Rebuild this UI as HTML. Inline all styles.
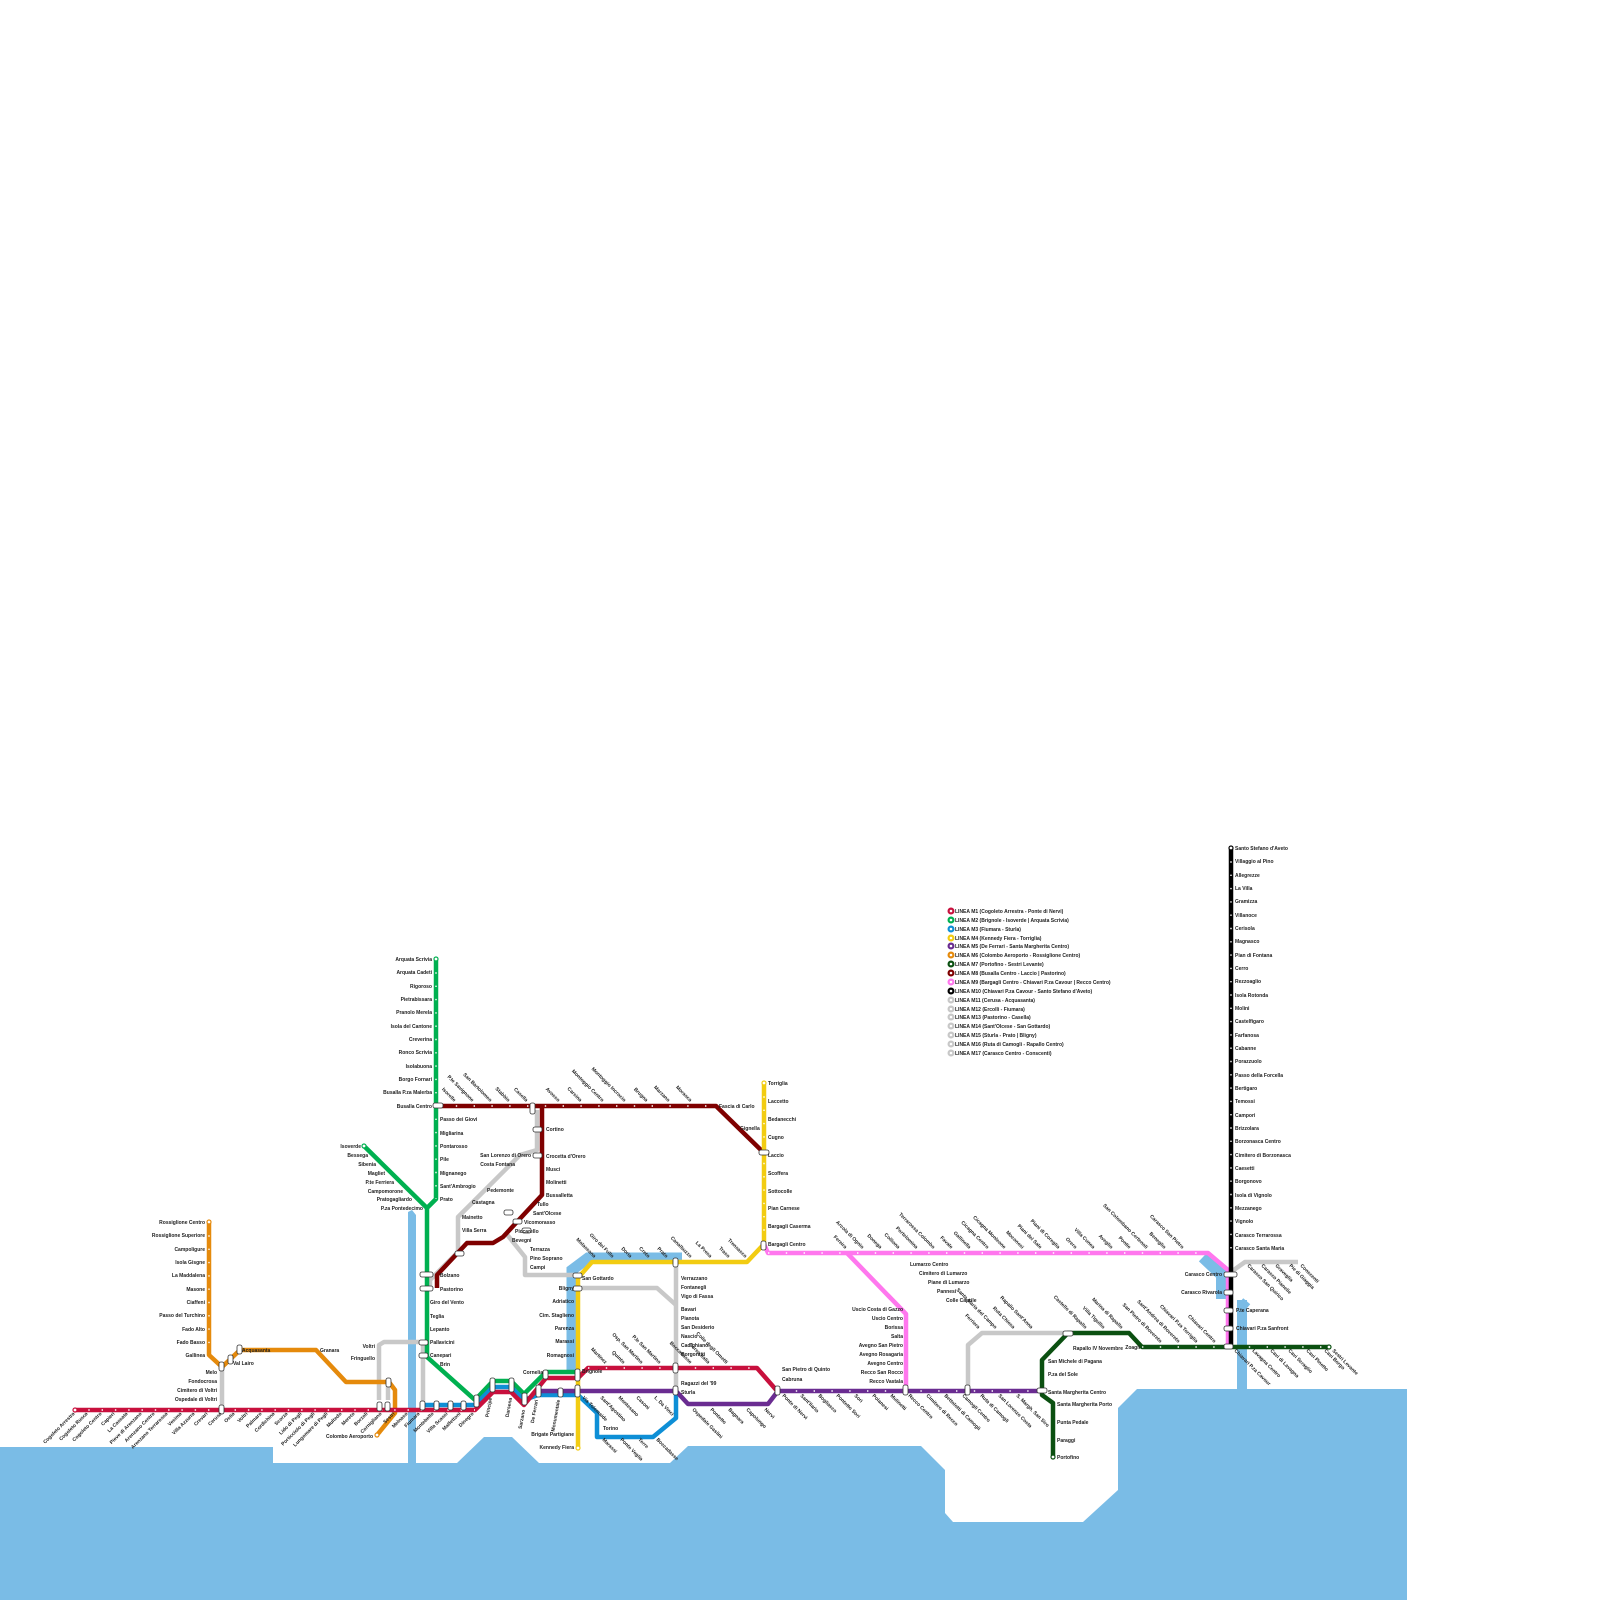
<!DOCTYPE html>
<html><head><meta charset="utf-8"><style>
html,body{margin:0;padding:0;background:#fff;}
svg{display:block;}
text{font-family:"Liberation Sans",sans-serif;font-size:5px;font-weight:bold;fill:#222;}
.r{text-anchor:end;}
</style></head><body>
<svg width="1600" height="1600" viewBox="0 0 1600 1600" xmlns="http://www.w3.org/2000/svg">
<!-- water -->
<path d="M0,1447 L273,1447 L273,1463 L408,1463 L408,1212 L412,1210 L416,1215 L416,1463 L457,1463 L484,1437 L512,1437 L539,1463 L670,1463 L688,1446 L921,1446 L945,1470 L945,1513 L953,1522 L1083,1522 L1118,1490 L1118,1408 L1137,1389 L1237,1389 L1237,1300 L1247,1300 L1247,1389 L1407,1389 L1407,1600 L0,1600 Z" fill="#7abce6"/>
<polyline points="572,1372 572,1270 588,1258 682,1258" fill="none" stroke="#7abce6" stroke-width="11"/>
<polyline points="1203,1257 1222,1275 1222,1299" fill="none" stroke="#7abce6" stroke-width="12"/>
<polyline points="1240,1302 1247,1308" fill="none" stroke="#7abce6" stroke-width="10"/>

<g fill="none" stroke-linejoin="round" stroke-width="4.5">
<!-- grey lines -->
<g stroke="#c8c8c8">
<polyline points="222,1408 222,1367 240,1350"/>
<polyline points="379,1400 379,1345 384,1342 423,1342 423,1404"/>
<polyline points="388,1400 388,1382"/>
<polyline points="430,1288 430,1280 458,1252 458,1217 520,1155 537,1150 537,1110"/>
<polyline points="505,1232 525,1257 525,1275 578,1275"/>
<polyline points="676,1262 676,1390"/>
<polyline points="580,1288 657,1288 676,1305"/>
<polyline points="968,1391 968,1345 982,1333 1068,1333"/>
<polyline points="1231,1272 1245,1262 1298,1262"/>
</g>
<!-- orange -->
<polyline stroke="#e58a0c" points="209,1222 209,1355 222,1367 240,1350 316,1350 346,1382 389,1382 395,1390 395,1413 377,1435"/>
<!-- maroon -->
<polyline stroke="#7f0000" points="438,1106 716,1106 763,1152"/>
<polyline stroke="#7f0000" points="542,1106 542,1195 503,1237 493,1243 467,1243 437,1275 437,1288"/>
<!-- green -->
<polyline stroke="#00b050" points="436,959 436,1199 427,1208 427,1357 475,1400 493,1381 511,1381 524,1394 546,1372 578,1372"/>
<polyline stroke="#00b050" points="364,1146 427,1208"/>
<!-- blue -->
<polyline stroke="#0e8fd6" points="420,1405 475,1405 493,1387 511,1387 524,1400 538,1395 578,1395 597,1413 597,1437 653,1437 676,1418 676,1390"/>
<!-- red -->
<polyline stroke="#c8103d" points="75,1410 475,1410 493,1392 511,1392 524,1405 546,1378 578,1378 588,1368 757,1368 778,1392"/>
<!-- purple -->
<polyline stroke="#6a2c91" points="538,1391 676,1391 688,1404 768,1404 778,1391 1042,1391"/>
<!-- yellow -->
<polyline stroke="#f2cc12" points="578,1448 578,1278 592,1262 747,1262 764,1244 764,1083"/>
<!-- pink -->
<polyline stroke="#ff77ee" points="764,1244 768,1253 1208,1253 1228,1270 1228,1347"/>
<polyline stroke="#ff77ee" points="847,1253 906,1314 906,1388"/>
<!-- black -->
<polyline stroke="#000" points="1231,848 1231,1347"/>
<!-- dark green -->
<polyline stroke="#0b5011" points="1053,1457 1053,1403 1042,1395 1042,1360 1068,1333 1129,1333 1142,1347 1329,1347"/>
</g>

<!-- station dots along lines -->
<g fill="none" stroke="#fff" stroke-width="1.4" stroke-dasharray="1.4 11.9">
<polyline points="75,1410 475,1410"/>
<polyline points="436,959 436,1199"/>
<polyline points="1231,848 1231,1249"/>
<polyline points="209,1222 209,1355"/>
<polyline points="764,1083 764,1244"/>
<polyline points="768,1253 1208,1253" stroke-dasharray="1.4 16.4"/>
<polyline points="438,1106 716,1106" stroke-dasharray="1.4 16.4"/>
<polyline points="778,1391 1042,1391" stroke-dasharray="1.4 16.4"/>
<polyline points="588,1368 757,1368" stroke-dasharray="1.4 16.4"/>
<polyline points="1142,1347 1329,1347" stroke-dasharray="1.4 16.4"/>
</g>

<!-- interchange markers -->
<g fill="#fff" stroke="#333" stroke-width="0.8">
<rect x="433" y="1103" width="10" height="5" rx="2"/>
<rect x="530" y="1103" width="5" height="11" rx="2"/>
<rect x="533" y="1127" width="9" height="5" rx="2"/>
<rect x="533" y="1153" width="9" height="5" rx="2"/>
<rect x="759" y="1150" width="10" height="5" rx="2"/>
<rect x="761" y="1241" width="5" height="9" rx="2"/>
<rect x="420" y="1272" width="13" height="5" rx="2"/>
<rect x="420" y="1286" width="13" height="5" rx="2"/>
<rect x="419" y="1340" width="9" height="5" rx="2"/>
<rect x="419" y="1353" width="9" height="5" rx="2"/>
<rect x="573" y="1273" width="9" height="5" rx="2"/>
<rect x="573" y="1286" width="9" height="5" rx="2"/>
<rect x="575" y="1369" width="5" height="12" rx="2"/>
<rect x="575" y="1385" width="5" height="12" rx="2"/>
<rect x="673" y="1258" width="5" height="9" rx="2"/>
<rect x="673" y="1363" width="5" height="10" rx="2"/>
<rect x="673" y="1386" width="5" height="9" rx="2"/>
<rect x="775" y="1386" width="5" height="9" rx="2"/>
<rect x="903" y="1385" width="5" height="10" rx="2"/>
<rect x="965" y="1385" width="5" height="10" rx="2"/>
<rect x="1037" y="1388" width="10" height="5" rx="2"/>
<rect x="1063" y="1331" width="10" height="5" rx="2"/>
<rect x="1224" y="1272" width="13" height="5" rx="2"/>
<rect x="1224" y="1290" width="9" height="5" rx="2"/>
<rect x="1224" y="1308" width="9" height="5" rx="2"/>
<rect x="1224" y="1326" width="9" height="5" rx="2"/>
<rect x="1224" y="1344" width="9" height="5" rx="2"/>
<rect x="219" y="1405" width="5" height="9" rx="2"/>
<rect x="219" y="1362" width="5" height="9" rx="2"/>
<rect x="228" y="1355" width="5" height="9" rx="2"/>
<rect x="237" y="1345" width="5" height="9" rx="2"/>
<rect x="377" y="1402" width="5" height="9" rx="2"/>
<rect x="385" y="1402" width="5" height="9" rx="2"/>
<rect x="386" y="1378" width="5" height="9" rx="2"/>
<rect x="420" y="1401" width="5" height="9" rx="2"/>
<rect x="434" y="1401" width="5" height="9" rx="2"/>
<rect x="448" y="1401" width="5" height="9" rx="2"/>
<rect x="461" y="1401" width="5" height="9" rx="2"/>
<rect x="474" y="1395" width="5" height="12" rx="2"/>
<rect x="490" y="1378" width="5" height="14" rx="2"/>
<rect x="509" y="1378" width="5" height="14" rx="2"/>
<rect x="522" y="1393" width="5" height="12" rx="2"/>
<rect x="536" y="1385" width="5" height="12" rx="2"/>
<rect x="543" y="1370" width="5" height="9" rx="2"/>
<rect x="558" y="1388" width="5" height="9" rx="2"/>
<rect x="455" y="1251" width="9" height="5" rx="2"/>
<rect x="522" y="1228" width="9" height="5" rx="2"/>
<rect x="513" y="1219" width="9" height="5" rx="2"/>
<rect x="504" y="1210" width="9" height="5" rx="2"/>
</g>
<g fill="#fff" stroke-width="1.2">
<circle cx="75" cy="1410" r="2" stroke="#c8103d"/>
<circle cx="436" cy="959" r="2" stroke="#00b050"/>
<circle cx="364" cy="1146" r="2" stroke="#00b050"/>
<circle cx="209" cy="1222" r="2" stroke="#e58a0c"/>
<circle cx="377" cy="1435" r="2" stroke="#e58a0c"/>
<circle cx="764" cy="1083" r="2" stroke="#f2cc12"/>
<circle cx="578" cy="1448" r="2" stroke="#f2cc12"/>
<circle cx="1231" cy="848" r="2" stroke="#000"/>
<circle cx="1053" cy="1457" r="2" stroke="#0b5011"/>
<circle cx="1329" cy="1347" r="2" stroke="#0b5011"/>
</g>

<!-- legend -->
<g>
<circle cx="951" cy="911" r="3.5" fill="#c8103d"/><circle cx="951" cy="920" r="3.5" fill="#00b050"/><circle cx="951" cy="929" r="3.5" fill="#0e8fd6"/><circle cx="951" cy="938" r="3.5" fill="#f2cc12"/><circle cx="951" cy="946" r="3.5" fill="#6a2c91"/><circle cx="951" cy="955" r="3.5" fill="#e58a0c"/><circle cx="951" cy="964" r="3.5" fill="#0b5011"/><circle cx="951" cy="973" r="3.5" fill="#7f0000"/><circle cx="951" cy="982" r="3.5" fill="#ff77ee"/><circle cx="951" cy="991" r="3.5" fill="#000"/>
<circle cx="951" cy="1000" r="3.5" fill="#c8c8c8"/><circle cx="951" cy="1009" r="3.5" fill="#c8c8c8"/><circle cx="951" cy="1017" r="3.5" fill="#c8c8c8"/><circle cx="951" cy="1026" r="3.5" fill="#c8c8c8"/><circle cx="951" cy="1035" r="3.5" fill="#c8c8c8"/><circle cx="951" cy="1044" r="3.5" fill="#c8c8c8"/><circle cx="951" cy="1053" r="3.5" fill="#c8c8c8"/>
<g fill="#fff"><circle cx="951" cy="911" r="1.3"/><circle cx="951" cy="920" r="1.3"/><circle cx="951" cy="929" r="1.3"/><circle cx="951" cy="938" r="1.3"/><circle cx="951" cy="946" r="1.3"/><circle cx="951" cy="955" r="1.3"/><circle cx="951" cy="964" r="1.3"/><circle cx="951" cy="973" r="1.3"/><circle cx="951" cy="982" r="1.3"/><circle cx="951" cy="991" r="1.3"/><circle cx="951" cy="1000" r="1.3"/><circle cx="951" cy="1009" r="1.3"/><circle cx="951" cy="1017" r="1.3"/><circle cx="951" cy="1026" r="1.3"/><circle cx="951" cy="1035" r="1.3"/><circle cx="951" cy="1044" r="1.3"/><circle cx="951" cy="1053" r="1.3"/></g>
<text x="955" y="913">LINEA M1 (Cogoleto Arrestra - Ponte di Nervi)</text>
<text x="955" y="922">LINEA M2 (Brignole - Isoverde | Arquata Scrivia)</text>
<text x="955" y="931">LINEA M3 (Fiumara - Sturla)</text>
<text x="955" y="940">LINEA M4 (Kennedy Fiera - Torriglia)</text>
<text x="955" y="948">LINEA M5 (De Ferrari - Santa Margherita Centro)</text>
<text x="955" y="957">LINEA M6 (Colombo Aeroporto - Rossiglione Centro)</text>
<text x="955" y="966">LINEA M7 (Portofino - Sestri Levante)</text>
<text x="955" y="975">LINEA M8 (Busalla Centro - Laccio | Pastorino)</text>
<text x="955" y="984">LINEA M9 (Bargagli Centro - Chiavari P.za Cavour | Recco Centro)</text>
<text x="955" y="993">LINEA M10 (Chiavari P.za Cavour - Santo Stefano d'Aveto)</text>
<text x="955" y="1002">LINEA M11 (Cerusa - Acquasanta)</text>
<text x="955" y="1011">LINEA M12 (Ercolli - Fiumara)</text>
<text x="955" y="1019">LINEA M13 (Pastorino - Casella)</text>
<text x="955" y="1028">LINEA M14 (Sant'Olcese - San Gottardo)</text>
<text x="955" y="1037">LINEA M15 (Sturla - Prato | Bligny)</text>
<text x="955" y="1046">LINEA M16 (Ruta di Camogli - Rapallo Centro)</text>
<text x="955" y="1055">LINEA M17 (Carasco Centro - Conscenti)</text>
</g>

<!-- black line labels -->
<g>
<text x="1235" y="850">Santo Stefano d'Aveto</text><text x="1235" y="863">Villaggio al Pino</text><text x="1235" y="877">Allegrezze</text><text x="1235" y="890">La Villa</text><text x="1235" y="903">Gramizza</text><text x="1235" y="917">Villanoce</text><text x="1235" y="930">Cerisola</text><text x="1235" y="943">Magnasco</text><text x="1235" y="957">Pian di Fontana</text><text x="1235" y="970">Cerro</text><text x="1235" y="983">Rezzoaglio</text><text x="1235" y="997">Isola Rotonda</text><text x="1235" y="1010">Molini</text><text x="1235" y="1023">Castelfigaro</text><text x="1235" y="1037">Farfanosa</text><text x="1235" y="1050">Cabanne</text><text x="1235" y="1063">Porazzuolo</text><text x="1235" y="1077">Passo della Forcella</text><text x="1235" y="1090">Bertigaro</text><text x="1235" y="1103">Temossi</text><text x="1235" y="1117">Campori</text><text x="1235" y="1130">Brizzolara</text><text x="1235" y="1143">Borzonasca Centro</text><text x="1235" y="1157">Cimitero di Borzonasca</text><text x="1235" y="1170">Caesetti</text><text x="1235" y="1183">Borgonovo</text><text x="1235" y="1197">Isola di Vignolo</text><text x="1235" y="1210">Mezzanego</text><text x="1235" y="1223">Vignolo</text><text x="1235" y="1237">Carasco Terrarossa</text><text x="1235" y="1250">Carasco Santa Maria</text>
<text x="1222" y="1276" class="r">Carasco Centro</text><text x="1222" y="1294" class="r">Carasco Rivarola</text><text x="1236" y="1312">P.te Caperana</text><text x="1236" y="1330">Chiavari P.za Sanfront</text>
</g>

<!-- green labels -->
<g class="r">
<text x="432" y="961">Arquata Scrivia</text><text x="432" y="974">Arquata Cadeti</text><text x="432" y="988">Rigoroso</text><text x="432" y="1001">Pietrabissara</text><text x="432" y="1014">Pranolo Merela</text><text x="432" y="1028">Isola del Cantone</text><text x="432" y="1041">Creverina</text><text x="432" y="1054">Ronco Scrivia</text><text x="432" y="1068">Isolabuona</text><text x="432" y="1081">Borgo Fornari</text><text x="432" y="1094">Busalla P.za Malerba</text><text x="432" y="1108">Busalla Centro</text>
<text x="361" y="1148">Isoverde</text><text x="368" y="1157">Bessega</text><text x="376" y="1166">Sibenia</text><text x="385" y="1175">Magliet</text><text x="394" y="1184">P.te Ferriera</text><text x="403" y="1193">Campomorone</text><text x="412" y="1201">Pratogagliardo</text><text x="423" y="1210">P.za Pontedecimo</text>
</g>
<g>
<text x="440" y="1121">Passo dei Giovi</text><text x="440" y="1135">Migliarina</text><text x="440" y="1148">Pontarosso</text><text x="440" y="1161">Pile</text><text x="440" y="1175">Mignanego</text><text x="440" y="1188">Sant'Ambrogio</text><text x="440" y="1201">Prato</text>
<text x="440" y="1277">Bolzano</text><text x="440" y="1291">Pastorino</text><text x="430" y="1304">Giro del Vento</text><text x="430" y="1318">Teglia</text><text x="430" y="1331">Lepanto</text><text x="430" y="1344">Pallavicini</text><text x="430" y="1357">Canepari</text><text x="440" y="1366">Brin</text>
<text x="546" y="1131">Cortino</text><text x="546" y="1158">Crocetta d'Orero</text><text x="546" y="1171">Musci</text><text x="546" y="1184">Molinetti</text><text x="546" y="1197">Bussalletta</text><text x="537" y="1206">Tullo</text><text x="533" y="1215">Sant'Olcese</text><text x="524" y="1224">Vicomorasso</text><text x="515" y="1233">Piccarello</text><text x="512" y="1242">Bevegni</text><text x="530" y="1251">Terrazza</text><text x="530" y="1260">Pino Soprano</text><text x="530" y="1269">Campi</text>
<text x="462" y="1219">Mainetto</text><text x="462" y="1232">Villa Serra</text><text x="472" y="1204">Castagna</text><text x="487" y="1192">Pedemonte</text>
<text x="719" y="1108">Fascia di Carlo</text><text x="740" y="1130">Gignella</text>
<text x="768" y="1085">Torriglia</text><text x="768" y="1103">Laccetto</text><text x="768" y="1121">Bedanecchi</text><text x="768" y="1139">Cugno</text><text x="768" y="1157">Laccio</text><text x="768" y="1175">Scoffera</text><text x="768" y="1193">Sottocolle</text><text x="768" y="1210">Pian Carnese</text><text x="768" y="1228">Bargagli Caserma</text><text x="768" y="1246">Bargagli Centro</text>
<text x="582" y="1280">San Gottardo</text><text x="582" y="1373">Brignole</text>
<text x="681" y="1280">Verrazzano</text><text x="681" y="1289">Fontanegli</text><text x="681" y="1298">Vigo di Fassa</text><text x="681" y="1311">Bavari</text><text x="681" y="1320">Pianota</text><text x="681" y="1329">San Desiderio</text><text x="681" y="1338">Nascio</text><text x="681" y="1347">Cadighiano</text><text x="681" y="1356">Borgoratti</text><text x="681" y="1385">Ragazzi del '99</text><text x="681" y="1394">Sturla</text>
<text x="603" y="1430">Torino</text>
<text x="782" y="1371">San Pietro di Quinto</text><text x="782" y="1381">Cabruna</text>
<text x="242" y="1352">Acquasanta</text><text x="233" y="1365">Val Lairo</text><text x="320" y="1352">Granara</text>
<text x="910" y="1266">Lumarzo Centro</text><text x="919" y="1275">Cimitero di Lumarzo</text><text x="928" y="1284">Piane di Lumarzo</text><text x="937" y="1293">Pannesi</text><text x="946" y="1302">Colle Caprile</text>
<text x="1073" y="1350">Rapallo IV Novembre</text><text x="1048" y="1363">San Michele di Pagana</text><text x="1048" y="1376">P.za del Sole</text><text x="1048" y="1394">Santa Margherita Centro</text><text x="1057" y="1406">Santa Margherita Porto</text><text x="1057" y="1424">Punta Pedale</text><text x="1057" y="1442">Paraggi</text><text x="1057" y="1459">Portofino</text>
</g>
<g class="r">
<text x="205" y="1224">Rossiglione Centro</text><text x="205" y="1237">Rossiglione Superiore</text><text x="205" y="1251">Campoligure</text><text x="205" y="1264">Isola Gisgne</text><text x="205" y="1277">La Maddalena</text><text x="205" y="1291">Masone</text><text x="205" y="1304">Ciaffeni</text><text x="205" y="1317">Passo del Turchino</text><text x="205" y="1331">Fado Alto</text><text x="205" y="1344">Fado Basso</text><text x="205" y="1357">Gallinea</text>
<text x="217" y="1374">Melo</text><text x="217" y="1383">Fondocrosa</text><text x="217" y="1392">Cimitero di Voltri</text><text x="217" y="1401">Ospedale di Voltri</text>
<text x="375" y="1348">Voltri</text><text x="375" y="1360">Fringuello</text><text x="373" y="1438">Colombo Aeroporto</text>
<text x="574" y="1290">Bligny</text><text x="574" y="1303">Adriatico</text><text x="574" y="1317">Cim. Staglieno</text><text x="574" y="1330">Parenza</text><text x="574" y="1343">Marassi</text><text x="574" y="1357">Romagnosi</text><text x="543" y="1374">Cornelia</text><text x="574" y="1436">Brigate Partigiane</text><text x="574" y="1449">Kennedy Fiera</text>
<text x="531" y="1157">San Lorenzo di Orero</text><text x="515" y="1166">Costa Fontana</text>
<text x="903" y="1311">Uscio Costa di Gazzo</text><text x="903" y="1320">Uscio Centro</text><text x="903" y="1329">Borissa</text><text x="903" y="1338">Salta</text><text x="903" y="1347">Avegno San Pietro</text><text x="903" y="1356">Avegno Rosagaria</text><text x="903" y="1365">Avegno Centro</text><text x="903" y="1374">Recco San Rocco</text><text x="903" y="1383">Recco Vastala</text>
<text x="1140" y="1349">Zoagli</text>
</g>

<!-- rotated labels: above lines (end at station) -->
<g class="r">
<text transform="translate(845,1249) rotate(45)">Fereira</text>
<text transform="translate(862,1249) rotate(45)">Arcola di Ognio</text>
<text transform="translate(880,1249) rotate(45)">Donega</text>
<text transform="translate(898,1249) rotate(45)">Colliona</text>
<text transform="translate(916,1249) rotate(45)">Portelomina</text>
<text transform="translate(933,1249) rotate(45)">Terrarossa Colombo</text>
<text transform="translate(951,1249) rotate(45)">Favale</text>
<text transform="translate(969,1249) rotate(45)">Gallinella</text>
<text transform="translate(987,1249) rotate(45)">Cicagna Centro</text>
<text transform="translate(1004,1249) rotate(45)">Cicagna Monleone</text>
<text transform="translate(1022,1249) rotate(45)">Moconesi</text>
<text transform="translate(1040,1249) rotate(45)">Piani del Sale</text>
<text transform="translate(1058,1249) rotate(45)">Piani di Coreglia</text>
<text transform="translate(1075,1249) rotate(45)">Orero</text>
<text transform="translate(1093,1249) rotate(45)">Villa Cunea</text>
<text transform="translate(1111,1249) rotate(45)">Aveglio</text>
<text transform="translate(1129,1249) rotate(45)">Pontie</text>
<text transform="translate(1146,1249) rotate(45)">San Colombano Certenoli</text>
<text transform="translate(1164,1249) rotate(45)">Beneglio</text>
<text transform="translate(1182,1249) rotate(45)">Carasco San Pietro</text>
<text transform="translate(454,1102) rotate(45)">Isorelle</text>
<text transform="translate(472,1102) rotate(45)">P.te Savignone</text>
<text transform="translate(490,1102) rotate(45)">San Bartolomeo</text>
<text transform="translate(508,1102) rotate(45)">Stabbio</text>
<text transform="translate(526,1102) rotate(45)">Casella</text>
<text transform="translate(558,1102) rotate(45)">Avosso</text>
<text transform="translate(580,1102) rotate(45)">Carsina</text>
<text transform="translate(602,1102) rotate(45)">Montoggio Centro</text>
<text transform="translate(624,1102) rotate(45)">Montoggio Incrocio</text>
<text transform="translate(646,1102) rotate(45)">Brugna</text>
<text transform="translate(668,1102) rotate(45)">Marzano</text>
<text transform="translate(690,1102) rotate(45)">Morasca</text>
<text transform="translate(594,1258) rotate(45)">Molassana</text>
<text transform="translate(612,1258) rotate(45)">Giro del Fullo</text>
<text transform="translate(630,1258) rotate(45)">Doria</text>
<text transform="translate(648,1258) rotate(45)">Creto</text>
<text transform="translate(666,1258) rotate(45)">Prato</text>
<text transform="translate(690,1258) rotate(45)">Canalbuzzo</text>
<text transform="translate(710,1258) rotate(45)">La Presa</text>
<text transform="translate(728,1258) rotate(45)">Traso</text>
<text transform="translate(745,1258) rotate(45)">Trensasco</text>
<text transform="translate(605,1364) rotate(45)">Martinez</text>
<text transform="translate(623,1364) rotate(45)">Quinto</text>
<text transform="translate(641,1364) rotate(45)">Osp. San Martino</text>
<text transform="translate(659,1364) rotate(45)">P.le San Martino</text>
<text transform="translate(690,1364) rotate(45)">Boccadasse</text>
<text transform="translate(708,1364) rotate(45)">Corso Italia</text>
<text transform="translate(726,1364) rotate(45)">Colle degli Ometti</text>
<text transform="translate(978,1329) rotate(45)">Ferriera</text>
<text transform="translate(995,1329) rotate(45)">Santa Maria del Campo</text>
<text transform="translate(1013,1329) rotate(45)">Ruta Chiesa</text>
<text transform="translate(1031,1329) rotate(45)">Rapallo Sant'Anna</text>
<text transform="translate(1085,1329) rotate(45)">Castello di Rapallo</text>
<text transform="translate(1103,1329) rotate(45)">Villa Tigullio</text>
<text transform="translate(1121,1329) rotate(45)">Marina di Rapallo</text>
<text transform="translate(1160,1343) rotate(45)">San Pietro di Rovereto</text>
<text transform="translate(1178,1343) rotate(45)">Sant'Andrea di Rovereto</text>
<text transform="translate(1196,1343) rotate(45)">Chiavari P.za Torriglia</text>
<text transform="translate(1214,1343) rotate(45)">Chiavari Centro</text>
<!-- below-left labels M1 -->
<text transform="translate(75,1414) rotate(-45)">Cogoleto Arrestra</text>
<text transform="translate(88,1414) rotate(-45)">Cogoleto Rusca</text>
<text transform="translate(102,1414) rotate(-45)">Cogoleto Centro</text>
<text transform="translate(115,1414) rotate(-45)">Capieri</text>
<text transform="translate(128,1414) rotate(-45)">La Cassata</text>
<text transform="translate(142,1414) rotate(-45)">Pieve di Arenzano</text>
<text transform="translate(155,1414) rotate(-45)">Arenzano Centro</text>
<text transform="translate(168,1414) rotate(-45)">Arenzano Terrarossa</text>
<text transform="translate(182,1414) rotate(-45)">Vesima</text>
<text transform="translate(195,1414) rotate(-45)">Villa Azzurra</text>
<text transform="translate(208,1414) rotate(-45)">Crevari</text>
<text transform="translate(222,1414) rotate(-45)">Cerusa</text>
<text transform="translate(235,1414) rotate(-45)">Ostia</text>
<text transform="translate(248,1414) rotate(-45)">Voltri</text>
<text transform="translate(262,1414) rotate(-45)">Palmaro</text>
<text transform="translate(275,1414) rotate(-45)">Cordichina</text>
<text transform="translate(288,1414) rotate(-45)">Scorza</text>
<text transform="translate(302,1414) rotate(-45)">Lido di Pegli</text>
<text transform="translate(315,1414) rotate(-45)">Porticciolo di Pegli</text>
<text transform="translate(328,1414) rotate(-45)">Lungomare di Pegli</text>
<text transform="translate(342,1414) rotate(-45)">Multedo</text>
<text transform="translate(355,1414) rotate(-45)">Mereto</text>
<text transform="translate(368,1414) rotate(-45)">Borzoli</text>
<text transform="translate(382,1414) rotate(-45)">Cornigliano</text>
<text transform="translate(395,1414) rotate(-45)">Sestri</text>
<text transform="translate(408,1414) rotate(-45)">Melnaso</text>
<text transform="translate(420,1414) rotate(-45)">Fiumara</text>
<text transform="translate(434,1414) rotate(-45)">Montebello</text>
<text transform="translate(448,1414) rotate(-45)">Villa Scassi</text>
<text transform="translate(461,1414) rotate(-45)">Malfettoni</text>
<text transform="translate(474,1414) rotate(-45)">Dinegro</text>
</g>
<!-- below-right labels -->
<g>
<text transform="translate(492,1398) rotate(-80)" class="r">Principe</text>
<text transform="translate(512,1398) rotate(-80)" class="r">Darsena</text>
<text transform="translate(525,1410) rotate(-80)" class="r">Sarzano</text>
<text transform="translate(538,1400) rotate(-80)" class="r">De Ferrari</text>
<text transform="translate(560,1400) rotate(-80)" class="r">Monumentale</text>
<text transform="translate(582,1398) rotate(45)">Via Tolemaide</text>
<text transform="translate(600,1398) rotate(45)">Sant'Agostino</text>
<text transform="translate(618,1398) rotate(45)">Montesano</text>
<text transform="translate(636,1398) rotate(45)">Casoni</text>
<text transform="translate(654,1398) rotate(45)">L. Da Vinci</text>
<text transform="translate(692,1410) rotate(45)">Ospedale Gaslini</text>
<text transform="translate(710,1410) rotate(45)">Pontetto</text>
<text transform="translate(728,1410) rotate(45)">Bagnara</text>
<text transform="translate(746,1410) rotate(45)">Capolungo</text>
<text transform="translate(764,1410) rotate(45)">Nervi</text>
<text transform="translate(782,1396) rotate(45)">Ponte di Nervi</text>
<text transform="translate(800,1396) rotate(45)">Sant'Ilario</text>
<text transform="translate(818,1396) rotate(45)">Bogliasco</text>
<text transform="translate(836,1396) rotate(45)">Pontetto Sori</text>
<text transform="translate(854,1396) rotate(45)">Sori</text>
<text transform="translate(872,1396) rotate(45)">Polanesi</text>
<text transform="translate(890,1396) rotate(45)">Mulinetti</text>
<text transform="translate(908,1396) rotate(45)">Recco Centro</text>
<text transform="translate(926,1396) rotate(45)">Cimitero di Recco</text>
<text transform="translate(944,1396) rotate(45)">Bettolotti di Camogli</text>
<text transform="translate(962,1396) rotate(45)">Camogli Centro</text>
<text transform="translate(980,1396) rotate(45)">Ruta di Camogli</text>
<text transform="translate(998,1396) rotate(45)">San Lorenzo Costa</text>
<text transform="translate(1016,1396) rotate(45)">S. Margh. San Siro</text>
<text transform="translate(602,1440) rotate(45)">Marassi</text>
<text transform="translate(620,1440) rotate(45)">Ponte Veglia</text>
<text transform="translate(638,1440) rotate(45)">Terre</text>
<text transform="translate(656,1440) rotate(45)">Boccadasse</text>
<text transform="translate(1234,1351) rotate(45)">Chiavari P.za Cavour</text>
<text transform="translate(1252,1351) rotate(45)">Lavagna Centro</text>
<text transform="translate(1270,1351) rotate(45)">Cavi di Lavagna</text>
<text transform="translate(1288,1351) rotate(45)">Cavi Scraglio</text>
<text transform="translate(1306,1351) rotate(45)">Cavi Pinetto</text>
<text transform="translate(1324,1351) rotate(45)">Cavi Borgo</text>
<text transform="translate(1332,1351) rotate(45)">Sestri Levante</text>
<text transform="translate(1247,1266) rotate(45)">Carasco San Quirico</text>
<text transform="translate(1261,1266) rotate(45)">Carasco Pianelle</text>
<text transform="translate(1275,1266) rotate(45)">Graveglia</text>
<text transform="translate(1289,1266) rotate(45)">Pie di Giaggia</text>
<text transform="translate(1300,1266) rotate(45)">Conscenti</text>
</g>
</svg>
</body></html>
